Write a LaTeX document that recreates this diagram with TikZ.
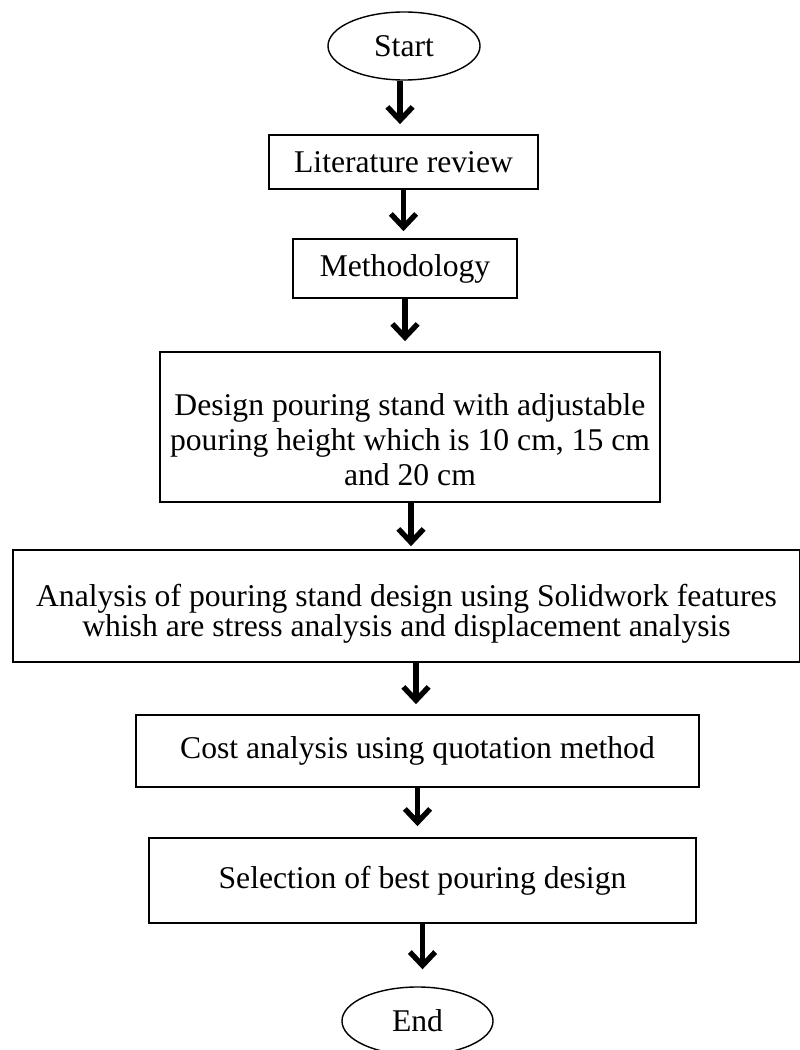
\documentclass[tikz,border=0pt]{standalone}
\usepackage{fontspec}
\setmainfont{Liberation Serif}
\usetikzlibrary{shapes.geometric,arrows.meta}
\tikzset{
    flowBox/.style={
        rectangle,
        draw,
        line width=1.2pt,
        align=center,
        inner sep=0pt,
        font=\fontsize{22.5}{25}\selectfont
    },
    flowTerm/.style={
        ellipse,
        draw,
        line width=1pt,
        inner sep=0pt,
        minimum width=3.8cm,
        minimum height=1.7cm,
        font=\fontsize{22.5}{25}\selectfont
    },
    flowArrow/.style={-{Straight Barb[length=9.5pt,width=18pt]}, line width=3.8pt, shorten >=0.25cm}
}
\begin{document}
\begin{tikzpicture}[x=0.025cm, y=-0.025cm]
    \useasboundingbox (0,0) rectangle (800,1050);

    \node[flowTerm] (start) at (404,46) {Start};
    \node[flowBox, minimum width=6.725cm, minimum height=1.35cm] (lit) at (403.5,162) {Literature review};
    \node[flowBox, minimum width=5.6cm, minimum height=1.475cm] (meth) at (405,268.5) {Methodology};
    % text sits a bit low in these two boxes
    \node[flowBox, minimum width=12.5cm, minimum height=3.75cm, font=\fontsize{22.5}{24.8}\selectfont] (design) at (410,427)
        {\rule{0pt}{34pt}Design pouring stand with adjustable\\pouring height which is 10 cm, 15 cm\\and 20 cm};
    \node[flowBox, minimum width=19.675cm, minimum height=2.8cm, font=\fontsize{22.5}{21.3}\selectfont] (analysis) at (406.5,606)
        {\rule{0pt}{27pt}Analysis of pouring stand design using Solidwork features\\whish are stress analysis and displacement analysis};
    \node[flowBox, minimum width=14.075cm, minimum height=1.8cm] (cost) at (417.5,751) {Cost analysis using quotation method};
    \node[flowBox, minimum width=13.675cm, minimum height=2.125cm] (select) at (422.5,880.5) {Selection of best pouring design};
    \node[flowTerm, minimum width=3.775cm] (end) at (417.5,1021) {End};

    \draw[flowArrow] ([xshift=-0.1cm]start.south) -- ([xshift=-0.1cm]start.south |- lit.north);
    \draw[flowArrow, shorten >=0.175cm] (lit.south) -- (lit.south |- meth.north);
    \draw[flowArrow] (meth.south) -- (meth.south |- design.north);
    \draw[flowArrow, shorten >=0.075cm] ([xshift=0.025cm]design.south) -- ([xshift=0.025cm]design.south |- analysis.north);
    \draw[flowArrow] ([xshift=0.2375cm]analysis.south) -- ([xshift=0.2375cm]analysis.south |- cost.north);
    \draw[flowArrow, shorten >=0.275cm] (cost.south) -- (cost.south |- select.north);
    \draw[flowArrow, shorten >=0.425cm] (select.south) -- (select.south |- end.north);
\end{tikzpicture}
\end{document}
